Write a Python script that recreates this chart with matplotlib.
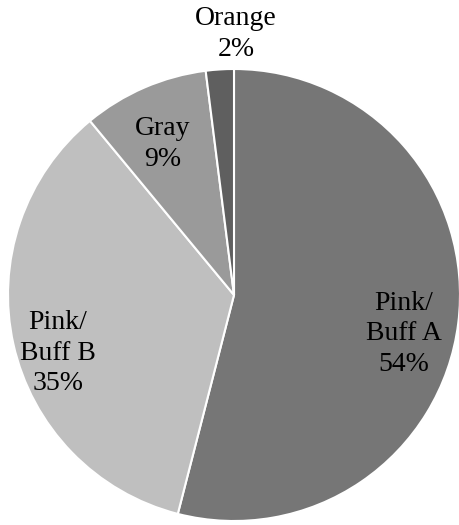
import matplotlib
matplotlib.use('Agg')
import matplotlib.pyplot as plt

labels = ['Pink/\nBuff A', 'Pink/\nBuff B', 'Gray', 'Orange']
shares = [54, 35, 9, 2]
colors = ['#767676', '#bfbfbf', '#9a9a9a', '#5f5f5f']
# label anchor positions in pixels (layout only)
label_pos = [(404, 191), (58, 172), (163, 381), (236, 491)]

fig = plt.figure(figsize=(4.59, 5.25), dpi=100)
ax = fig.add_axes([0, 0, 1, 1])
ax.set_xlim(0, 459)
ax.set_ylim(0, 525)
ax.set_aspect('equal')
ax.axis('off')

wedges, texts = ax.pie(shares, colors=colors, startangle=90, counterclock=False,
                       center=(234, 230), radius=226,
                       labels=[f'{l}\n{v}%' for l, v in zip(labels, shares)],
                       labeldistance=0.7,
                       wedgeprops=dict(edgecolor='white', linewidth=1.5))
ax.set_xlim(0, 459)
ax.set_ylim(0, 525)

for t, p in zip(texts, label_pos):
    t.set_position(p)
    t.set_ha('center')
    t.set_va('center')
    t.set_fontfamily('Liberation Serif')
    t.set_fontsize(20)
    t.set_linespacing(1.3)

fig.savefig('out.png', dpi=100)
